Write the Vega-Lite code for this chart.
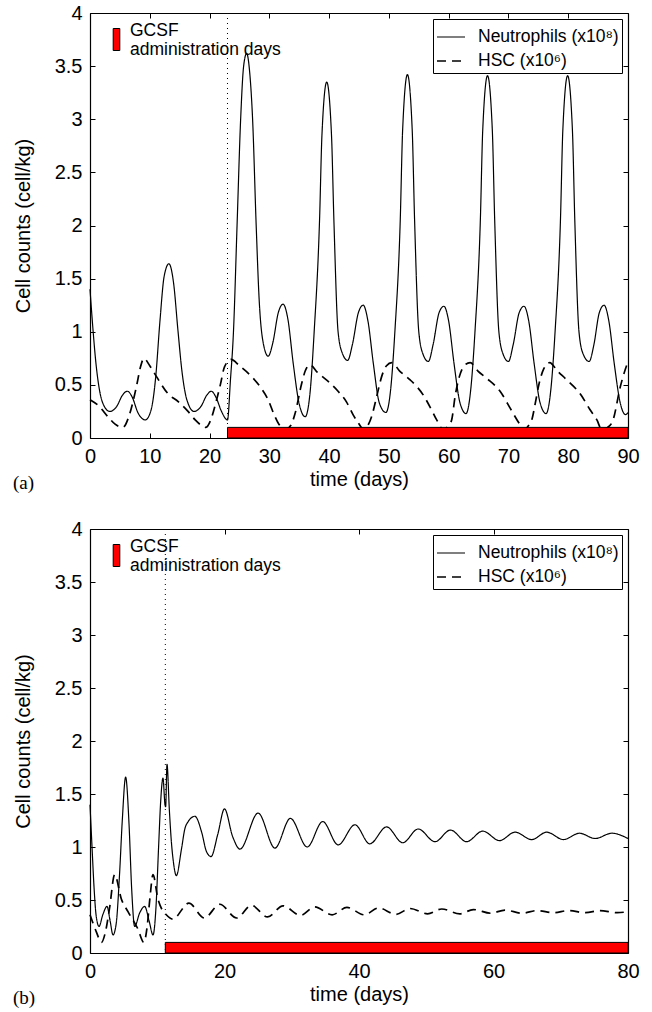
{
  "$schema": "https://vega.github.io/schema/vega-lite/v6.json",
  "padding": {"left": 13, "top": 3, "right": 5, "bottom": 5},
  "spacing": 26,
  "datasets": {
    "a": [
      {"s":"N","t":0,"v":1.40},{"s":"N","t":0.5,"v":1.02},{"s":"N","t":1.0,"v":0.70},{"s":"N","t":1.5,"v":0.48},{"s":"N","t":2.2,"v":0.32},{"s":"N","t":3.3,"v":0.25},{"s":"N","t":4.5,"v":0.30},{"s":"N","t":5.4,"v":0.40},{"s":"N","t":6.25,"v":0.44},{"s":"N","t":7.1,"v":0.38},{"s":"N","t":8.0,"v":0.24},{"s":"N","t":9.26,"v":0.17},{"s":"N","t":10.2,"v":0.26},{"s":"N","t":11.0,"v":0.58},{"s":"N","t":11.7,"v":1.10},{"s":"N","t":12.4,"v":1.52},{"s":"N","t":13.2,"v":1.64},{"s":"N","t":14.0,"v":1.45},{"s":"N","t":14.7,"v":1.02},{"s":"N","t":15.4,"v":0.62},{"s":"N","t":16.2,"v":0.36},{"s":"N","t":17.4,"v":0.25},{"s":"N","t":18.6,"v":0.30},{"s":"N","t":19.5,"v":0.40},{"s":"N","t":20.3,"v":0.44},{"s":"N","t":21.1,"v":0.38},{"s":"N","t":22.0,"v":0.25},{"s":"N","t":23.0,"v":0.17},{"s":"N","t":23.5,"v":0.55},{"s":"N","t":24.0,"v":1.00},{"s":"N","t":24.6,"v":2.00},{"s":"N","t":25.2,"v":3.00},{"s":"N","t":25.7,"v":3.50},{"s":"N","t":26.2,"v":3.62},{"s":"N","t":26.7,"v":3.45},{"s":"N","t":27.2,"v":3.00},{"s":"N","t":27.8,"v":2.00},{"s":"N","t":28.3,"v":1.30},{"s":"N","t":28.9,"v":0.92},{"s":"N","t":29.8,"v":0.77},{"s":"N","t":30.6,"v":0.90},{"s":"N","t":31.5,"v":1.18},{"s":"N","t":32.3,"v":1.26},{"s":"N","t":33.1,"v":1.12},{"s":"N","t":34.0,"v":0.70},{"s":"N","t":35.0,"v":0.32},{"s":"N","t":36.0,"v":0.20},{"s":"N","t":36.8,"v":0.42},{"s":"N","t":37.5,"v":1.00},{"s":"N","t":38.4,"v":2.05},{"s":"N","t":38.8,"v":2.85},{"s":"N","t":39.6,"v":3.35},{"s":"N","t":40.4,"v":2.85},{"s":"N","t":40.8,"v":2.05},{"s":"N","t":41.5,"v":1.00},{"s":"N","t":42.2,"v":0.80},{"s":"N","t":43.1,"v":0.73},{"s":"N","t":43.9,"v":0.88},{"s":"N","t":44.9,"v":1.18},{"s":"N","t":45.7,"v":1.25},{"s":"N","t":46.5,"v":1.10},{"s":"N","t":47.4,"v":0.70},{"s":"N","t":48.4,"v":0.33},{"s":"N","t":49.5,"v":0.24},{"s":"N","t":50.3,"v":0.46},{"s":"N","t":51.0,"v":1.00},{"s":"N","t":51.9,"v":2.05},{"s":"N","t":52.3,"v":2.90},{"s":"N","t":53.1,"v":3.42},{"s":"N","t":53.9,"v":2.90},{"s":"N","t":54.3,"v":2.05},{"s":"N","t":55.0,"v":1.00},{"s":"N","t":55.7,"v":0.79},{"s":"N","t":56.6,"v":0.72},{"s":"N","t":57.4,"v":0.88},{"s":"N","t":58.4,"v":1.18},{"s":"N","t":59.2,"v":1.24},{"s":"N","t":60.0,"v":1.10},{"s":"N","t":60.9,"v":0.70},{"s":"N","t":61.9,"v":0.33},{"s":"N","t":62.9,"v":0.23},{"s":"N","t":63.7,"v":0.46},{"s":"N","t":64.4,"v":1.00},{"s":"N","t":65.3,"v":2.05},{"s":"N","t":65.7,"v":2.90},{"s":"N","t":66.5,"v":3.41},{"s":"N","t":67.3,"v":2.90},{"s":"N","t":67.7,"v":2.05},{"s":"N","t":68.4,"v":1.00},{"s":"N","t":69.1,"v":0.79},{"s":"N","t":70.0,"v":0.72},{"s":"N","t":70.8,"v":0.88},{"s":"N","t":71.8,"v":1.18},{"s":"N","t":72.6,"v":1.24},{"s":"N","t":73.4,"v":1.10},{"s":"N","t":74.3,"v":0.70},{"s":"N","t":75.3,"v":0.33},{"s":"N","t":76.3,"v":0.23},{"s":"N","t":77.1,"v":0.46},{"s":"N","t":77.8,"v":1.00},{"s":"N","t":78.7,"v":2.05},{"s":"N","t":79.1,"v":2.90},{"s":"N","t":79.9,"v":3.41},{"s":"N","t":80.7,"v":2.90},{"s":"N","t":81.1,"v":2.05},{"s":"N","t":81.8,"v":1.00},{"s":"N","t":82.5,"v":0.79},{"s":"N","t":83.5,"v":0.72},{"s":"N","t":84.3,"v":0.88},{"s":"N","t":85.2,"v":1.18},{"s":"N","t":86.0,"v":1.25},{"s":"N","t":86.8,"v":1.10},{"s":"N","t":87.7,"v":0.70},{"s":"N","t":88.7,"v":0.33},{"s":"N","t":89.6,"v":0.22},{"s":"N","t":90,"v":0.24},
      {"s":"H","t":0,"v":0.36},{"s":"H","t":1.5,"v":0.30},{"s":"H","t":3.0,"v":0.20},{"s":"H","t":4.2,"v":0.13},{"s":"H","t":5.5,"v":0.10},{"s":"H","t":6.6,"v":0.22},{"s":"H","t":7.75,"v":0.48},{"s":"H","t":8.5,"v":0.68},{"s":"H","t":9.0,"v":0.75},{"s":"H","t":10.0,"v":0.68},{"s":"H","t":11.1,"v":0.58},{"s":"H","t":13.0,"v":0.42},{"s":"H","t":14.8,"v":0.34},{"s":"H","t":16.4,"v":0.25},{"s":"H","t":17.6,"v":0.17},{"s":"H","t":18.6,"v":0.12},{"s":"H","t":19.4,"v":0.10},{"s":"H","t":20.2,"v":0.17},{"s":"H","t":20.9,"v":0.30},{"s":"H","t":21.8,"v":0.50},{"s":"H","t":22.5,"v":0.67},{"s":"H","t":23.6,"v":0.74},{"s":"H","t":25.0,"v":0.68},{"s":"H","t":27.0,"v":0.58},{"s":"H","t":28.5,"v":0.48},{"s":"H","t":29.8,"v":0.36},{"s":"H","t":30.8,"v":0.22},{"s":"H","t":31.6,"v":0.13},{"s":"H","t":32.6,"v":0.08},{"s":"H","t":33.6,"v":0.12},{"s":"H","t":34.3,"v":0.23},{"s":"H","t":35.4,"v":0.51},{"s":"H","t":36.0,"v":0.63},{"s":"H","t":36.8,"v":0.69},{"s":"H","t":38.0,"v":0.62},{"s":"H","t":40.1,"v":0.52},{"s":"H","t":41.5,"v":0.44},{"s":"H","t":42.9,"v":0.34},{"s":"H","t":44.0,"v":0.22},{"s":"H","t":44.9,"v":0.14},{"s":"H","t":45.8,"v":0.08},{"s":"H","t":46.6,"v":0.13},{"s":"H","t":47.1,"v":0.20},{"s":"H","t":48.0,"v":0.40},{"s":"H","t":48.8,"v":0.58},{"s":"H","t":49.6,"v":0.68},{"s":"H","t":50.5,"v":0.71},{"s":"H","t":51.8,"v":0.63},{"s":"H","t":53.5,"v":0.55},{"s":"H","t":55.8,"v":0.40},{"s":"H","t":57.0,"v":0.28},{"s":"H","t":58.0,"v":0.17},{"s":"H","t":59.1,"v":0.08},{"s":"H","t":60.0,"v":0.12},{"s":"H","t":60.5,"v":0.17},{"s":"H","t":61.1,"v":0.40},{"s":"H","t":61.8,"v":0.58},{"s":"H","t":62.6,"v":0.68},{"s":"H","t":63.6,"v":0.71},{"s":"H","t":64.9,"v":0.63},{"s":"H","t":66.4,"v":0.56},{"s":"H","t":68.6,"v":0.44},{"s":"H","t":70.5,"v":0.26},{"s":"H","t":71.9,"v":0.13},{"s":"H","t":72.6,"v":0.08},{"s":"H","t":73.4,"v":0.12},{"s":"H","t":73.9,"v":0.17},{"s":"H","t":74.5,"v":0.33},{"s":"H","t":75.0,"v":0.48},{"s":"H","t":75.9,"v":0.65},{"s":"H","t":76.9,"v":0.71},{"s":"H","t":78.2,"v":0.63},{"s":"H","t":79.7,"v":0.55},{"s":"H","t":82.2,"v":0.40},{"s":"H","t":83.6,"v":0.27},{"s":"H","t":84.8,"v":0.17},{"s":"H","t":85.6,"v":0.08},{"s":"H","t":86.6,"v":0.10},{"s":"H","t":87.5,"v":0.17},{"s":"H","t":88.7,"v":0.48},{"s":"H","t":89.4,"v":0.62},{"s":"H","t":90,"v":0.72}
    ],
    "b": [
      {"s":"N","t":0,"v":1.40},{"s":"N","t":0.3,"v":1.00},{"s":"N","t":0.6,"v":0.62},{"s":"N","t":0.9,"v":0.36},{"s":"N","t":1.34,"v":0.25},{"s":"N","t":1.9,"v":0.36},{"s":"N","t":2.53,"v":0.44},{"s":"N","t":3.0,"v":0.30},{"s":"N","t":3.42,"v":0.17},{"s":"N","t":3.9,"v":0.28},{"s":"N","t":4.4,"v":0.75},{"s":"N","t":4.8,"v":1.25},{"s":"N","t":5.3,"v":1.66},{"s":"N","t":5.8,"v":1.22},{"s":"N","t":6.2,"v":0.60},{"s":"N","t":6.64,"v":0.25},{"s":"N","t":7.4,"v":0.38},{"s":"N","t":8.13,"v":0.44},{"s":"N","t":8.8,"v":0.30},{"s":"N","t":9.37,"v":0.17},{"s":"N","t":9.8,"v":0.42},{"s":"N","t":10.2,"v":1.00},{"s":"N","t":10.5,"v":1.42},{"s":"N","t":10.85,"v":1.65},{"s":"N","t":11.15,"v":1.40},{"s":"N","t":11.25,"v":1.38},{"s":"N","t":11.45,"v":1.78},{"s":"N","t":11.8,"v":1.35},{"s":"N","t":12.1,"v":1.05},{"s":"N","t":12.4,"v":0.86},{"s":"N","t":12.84,"v":0.73},{"s":"N","t":13.6,"v":0.98},{"s":"N","t":14.1,"v":1.17},{"s":"N","t":14.6,"v":1.24},{"s":"N","t":15.6,"v":1.29},{"s":"N","t":16.6,"v":1.14},{"s":"N","t":17.3,"v":0.96},{"s":"N","t":18.0,"v":0.91},{"s":"N","t":19.0,"v":1.12},{"s":"N","t":20.0,"v":1.36},{"s":"N","t":21.2,"v":1.10},{"s":"N","t":22.3,"v":0.98},{"s":"N","t":25.0,"v":1.32},{"s":"N","t":27.5,"v":0.99},{"s":"N","t":29.8,"v":1.27},{"s":"N","t":32.3,"v":1.00},{"s":"N","t":34.6,"v":1.24},{"s":"N","t":36.9,"v":1.02},{"s":"N","t":39.4,"v":1.21},{"s":"N","t":41.6,"v":1.03},{"s":"N","t":44.1,"v":1.19},{"s":"N","t":46.5,"v":1.04},{"s":"N","t":48.8,"v":1.17},{"s":"N","t":51.3,"v":1.05},{"s":"N","t":53.6,"v":1.16},{"s":"N","t":56.0,"v":1.05},{"s":"N","t":58.4,"v":1.15},{"s":"N","t":60.9,"v":1.06},{"s":"N","t":63.2,"v":1.14},{"s":"N","t":65.7,"v":1.07},{"s":"N","t":67.9,"v":1.14},{"s":"N","t":70.4,"v":1.07},{"s":"N","t":72.8,"v":1.13},{"s":"N","t":75.1,"v":1.08},{"s":"N","t":77.6,"v":1.13},{"s":"N","t":80,"v":1.08},
      {"s":"H","t":0,"v":0.36},{"s":"H","t":0.94,"v":0.20},{"s":"H","t":1.7,"v":0.10},{"s":"H","t":2.3,"v":0.20},{"s":"H","t":2.9,"v":0.42},{"s":"H","t":3.67,"v":0.74},{"s":"H","t":4.66,"v":0.51},{"s":"H","t":5.65,"v":0.39},{"s":"H","t":7.1,"v":0.23},{"s":"H","t":8.0,"v":0.10},{"s":"H","t":8.5,"v":0.25},{"s":"H","t":8.9,"v":0.51},{"s":"H","t":9.37,"v":0.74},{"s":"H","t":10.1,"v":0.51},{"s":"H","t":10.8,"v":0.40},{"s":"H","t":11.2,"v":0.37},{"s":"H","t":12.3,"v":0.32},{"s":"H","t":14.7,"v":0.47},{"s":"H","t":17.0,"v":0.33},{"s":"H","t":19.3,"v":0.46},{"s":"H","t":21.8,"v":0.33},{"s":"H","t":24.0,"v":0.45},{"s":"H","t":26.4,"v":0.34},{"s":"H","t":28.7,"v":0.445},{"s":"H","t":31.3,"v":0.355},{"s":"H","t":33.4,"v":0.435},{"s":"H","t":36.0,"v":0.36},{"s":"H","t":38.2,"v":0.43},{"s":"H","t":40.8,"v":0.36},{"s":"H","t":42.9,"v":0.425},{"s":"H","t":45.5,"v":0.365},{"s":"H","t":47.6,"v":0.42},{"s":"H","t":50.2,"v":0.37},{"s":"H","t":52.3,"v":0.415},{"s":"H","t":55.0,"v":0.37},{"s":"H","t":57.0,"v":0.41},{"s":"H","t":59.6,"v":0.375},{"s":"H","t":61.7,"v":0.405},{"s":"H","t":64.3,"v":0.375},{"s":"H","t":66.4,"v":0.40},{"s":"H","t":69.0,"v":0.38},{"s":"H","t":71.1,"v":0.40},{"s":"H","t":73.7,"v":0.38},{"s":"H","t":75.8,"v":0.40},{"s":"H","t":78.4,"v":0.38},{"s":"H","t":80,"v":0.39}
    ],
    "ga": [{"g":"GCSF","start":23,"end":90,"lo":0,"hi":0.1}],
    "gb": [{"g":"GCSF","start":11.2,"end":80,"lo":0,"hi":0.1}]
  },
  "vconcat": [
    {
      "width": 538, "height": 425,
      "title": {"text": "(a)", "orient": "bottom", "anchor": "start", "frame": "group", "font": "Liberation Serif", "fontSize": 19, "fontWeight": "normal", "color": "black", "dx": -77, "offset": -15},
      "layer": [
        {
          "data": {"name": "a"},
          "mark": {"type": "line", "color": "black", "interpolate": "monotone"},
          "encoding": {
            "x": {"field": "t", "type": "quantitative", "scale": {"domain": [0, 90], "nice": false}, "axis": {"values": [0,10,20,30,40,50,60,70,80,90], "title": "time (days)", "titlePadding": 3}},
            "y": {"field": "v", "type": "quantitative", "scale": {"domain": [0, 4], "nice": false}, "axis": {"values": [0,0.5,1,1.5,2,2.5,3,3.5,4], "format": "~g", "title": "Cell counts (cell/kg)", "titlePadding": 21}},
            "strokeDash": {"field": "s", "type": "nominal", "scale": {"domain": ["N","H"], "range": [[1,0],[9,6]]},
              "legend": {"orient": "top-right", "title": null, "labelExpr": "datum.label == 'N' ? 'Neutrophils (x10⁸)' : 'HSC (x10⁶)'", "strokeColor": "black", "fillColor": "white", "padding": 3, "offset": 6, "symbolType": "stroke", "symbolSize": 784, "symbolStrokeColor": "black", "symbolStrokeWidth": 1.4, "labelFontSize": 17.5, "labelFont": "Liberation Sans", "labelColor": "black", "rowPadding": -2.5, "labelOffset": 12}},
            "strokeWidth": {"field": "s", "type": "nominal", "scale": {"domain": ["N","H"], "range": [1.2, 1.7]}, "legend": null}
          }
        },
        {
          "data": {"name": "ga"},
          "mark": {"type": "rule", "color": "black", "strokeDash": [1, 4], "strokeWidth": 1},
          "encoding": {"x": {"field": "start", "type": "quantitative", "axis": null}}
        },
        {
          "data": {"name": "ga"},
          "mark": {"type": "rect", "stroke": "black", "strokeWidth": 1},
          "encoding": {
            "x": {"field": "start", "type": "quantitative", "axis": {"orient": "top", "labels": false, "title": null, "values": [0,10,20,30,40,50,60,70,80,90]}},
            "x2": {"field": "end"},
            "y": {"field": "lo", "type": "quantitative", "axis": {"orient": "right", "labels": false, "title": null, "values": [0,0.5,1,1.5,2,2.5,3,3.5,4]}},
            "y2": {"field": "hi"},
            "fill": {"field": "g", "type": "nominal", "scale": {"range": ["#ff0000"]},
              "legend": {"orient": "top-left", "title": null, "offset": 10, "padding": 5, "labelExpr": "['GCSF', 'administration days']", "labelBaseline": "bottom", "symbolType": "M-0.3,-1H0.3V1H-0.3Z", "symbolSize": 484, "symbolFillColor": "#ff0000", "symbolStrokeColor": "black", "symbolStrokeWidth": 1, "labelFontSize": 17.5, "labelFont": "Liberation Sans", "labelColor": "black", "labelOffset": 2}}
          }
        }
      ],
      "resolve": {"axis": {"x": "independent", "y": "independent"}}
    },
    {
      "width": 538, "height": 424,
      "title": {"text": "(b)", "orient": "bottom", "anchor": "start", "frame": "group", "font": "Liberation Serif", "fontSize": 19, "fontWeight": "normal", "color": "black", "dx": -77, "offset": -15},
      "layer": [
        {
          "data": {"name": "b"},
          "mark": {"type": "line", "color": "black", "interpolate": "monotone"},
          "encoding": {
            "x": {"field": "t", "type": "quantitative", "scale": {"domain": [0, 80], "nice": false}, "axis": {"values": [0,20,40,60,80], "title": "time (days)", "titlePadding": 3}},
            "y": {"field": "v", "type": "quantitative", "scale": {"domain": [0, 4], "nice": false}, "axis": {"values": [0,0.5,1,1.5,2,2.5,3,3.5,4], "format": "~g", "title": "Cell counts (cell/kg)", "titlePadding": 21}},
            "strokeDash": {"field": "s", "type": "nominal", "scale": {"domain": ["N","H"], "range": [[1,0],[9,6]]},
              "legend": {"orient": "top-right", "title": null, "labelExpr": "datum.label == 'N' ? 'Neutrophils (x10⁸)' : 'HSC (x10⁶)'", "strokeColor": "black", "fillColor": "white", "padding": 3, "offset": 6, "symbolType": "stroke", "symbolSize": 784, "symbolStrokeColor": "black", "symbolStrokeWidth": 1.4, "labelFontSize": 17.5, "labelFont": "Liberation Sans", "labelColor": "black", "rowPadding": -2.5, "labelOffset": 12}},
            "strokeWidth": {"field": "s", "type": "nominal", "scale": {"domain": ["N","H"], "range": [1.2, 1.7]}, "legend": null}
          }
        },
        {
          "data": {"name": "gb"},
          "mark": {"type": "rule", "color": "black", "strokeDash": [1, 4], "strokeWidth": 1},
          "encoding": {"x": {"field": "start", "type": "quantitative", "axis": null}}
        },
        {
          "data": {"name": "gb"},
          "mark": {"type": "rect", "stroke": "black", "strokeWidth": 1},
          "encoding": {
            "x": {"field": "start", "type": "quantitative", "axis": {"orient": "top", "labels": false, "title": null, "values": [0,20,40,60,80]}},
            "x2": {"field": "end"},
            "y": {"field": "lo", "type": "quantitative", "axis": {"orient": "right", "labels": false, "title": null, "values": [0,0.5,1,1.5,2,2.5,3,3.5,4]}},
            "y2": {"field": "hi"},
            "fill": {"field": "g", "type": "nominal", "scale": {"range": ["#ff0000"]},
              "legend": {"orient": "top-left", "title": null, "offset": 10, "padding": 5, "labelExpr": "['GCSF', 'administration days']", "labelBaseline": "bottom", "symbolType": "M-0.3,-1H0.3V1H-0.3Z", "symbolSize": 484, "symbolFillColor": "#ff0000", "symbolStrokeColor": "black", "symbolStrokeWidth": 1, "labelFontSize": 17.5, "labelFont": "Liberation Sans", "labelColor": "black", "labelOffset": 2}}
          }
        }
      ],
      "resolve": {"axis": {"x": "independent", "y": "independent"}}
    }
  ],
  "resolve": {"scale": {"strokeDash": "independent", "fill": "independent", "strokeWidth": "independent"}},
  "config": {
    "view": {"stroke": null},
    "axis": {"labelFont": "Liberation Sans", "labelFontSize": 20, "titleFont": "Liberation Sans", "titleFontSize": 20, "titleFontWeight": "normal", "labelColor": "black", "titleColor": "black", "domainColor": "black", "domainWidth": 1.2, "tickColor": "black", "tickSize": -5, "tickWidth": 1, "grid": false, "labelPadding": 13, "labelFlush": false}
  }
}
